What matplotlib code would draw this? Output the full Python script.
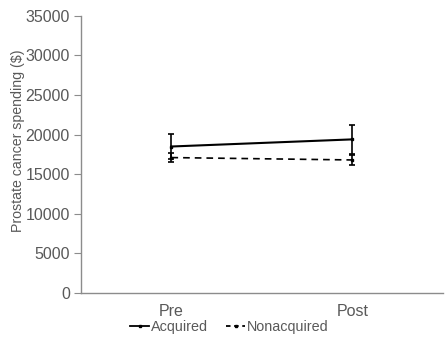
import numpy as np
import matplotlib
matplotlib.use("Agg")
import matplotlib.pyplot as plt
from matplotlib.lines import Line2D

plt.rcParams['font.family'] = ['Liberation Sans', 'DejaVu Sans']

periods = ["Pre", "Post"]
acquired = [18500, 19400]
acquired_err = [1600, 1800]
nonacquired = [17100, 16800]
nonacquired_err = [550, 650]

gray = "#595959"
fs = 11.5

fig = plt.figure(figsize=(4.45, 3.39), dpi=100)
ax = fig.add_axes([0.182, 0.136, 0.813, 0.817])

x = np.arange(len(periods))
ax.errorbar(x, acquired, yerr=acquired_err, color="black", lw=1.5,
            marker="s", ms=2, capsize=2, elinewidth=1.2,
            capthick=1.2)
ax.errorbar(x, nonacquired, yerr=nonacquired_err, color="black", lw=1.2,
            ls=(0, (4, 3)), marker="s", ms=2, capsize=2,
            elinewidth=1.2, capthick=1.2)

ax.set_xlim(-0.5, 1.5)
ax.set_ylim(0, 35000)
ax.set_yticks(np.arange(0, 35001, 5000))
ax.set_xticks(x)
ax.set_xticklabels(periods)

for s in ["top", "right"]:
    ax.spines[s].set_visible(False)
for s in ["left", "bottom"]:
    ax.spines[s].set_color("#8c8c8c")
    ax.spines[s].set_linewidth(1.0)

ax.tick_params(axis="y", colors="#8c8c8c", labelcolor=gray, labelsize=fs,
               length=5, direction="out", pad=3)
ax.tick_params(axis="x", length=0, labelcolor=gray, labelsize=fs, pad=8)

ax.set_ylabel("Prostate cancer spending ($)", color=gray, fontsize=10.2)
ax.yaxis.set_label_coords(-0.155, 0.55)

handles = [
    Line2D([], [], color="black", lw=1.3, marker="s", ms=2),
    Line2D([], [], color="black", lw=1.3, ls=(0, (2.5, 2)), marker="s", ms=2),
]
leg = fig.legend(handles, ["Acquired", "Nonacquired"], loc="center",
                 bbox_to_anchor=(0.515, 0.036), ncol=2, frameon=False,
                 fontsize=10.4, handlelength=1.3, handletextpad=0.1,
                 columnspacing=1.3, borderpad=0, borderaxespad=0)
for t in leg.get_texts():
    t.set_color(gray)

fig.savefig("out.png", dpi=100)
